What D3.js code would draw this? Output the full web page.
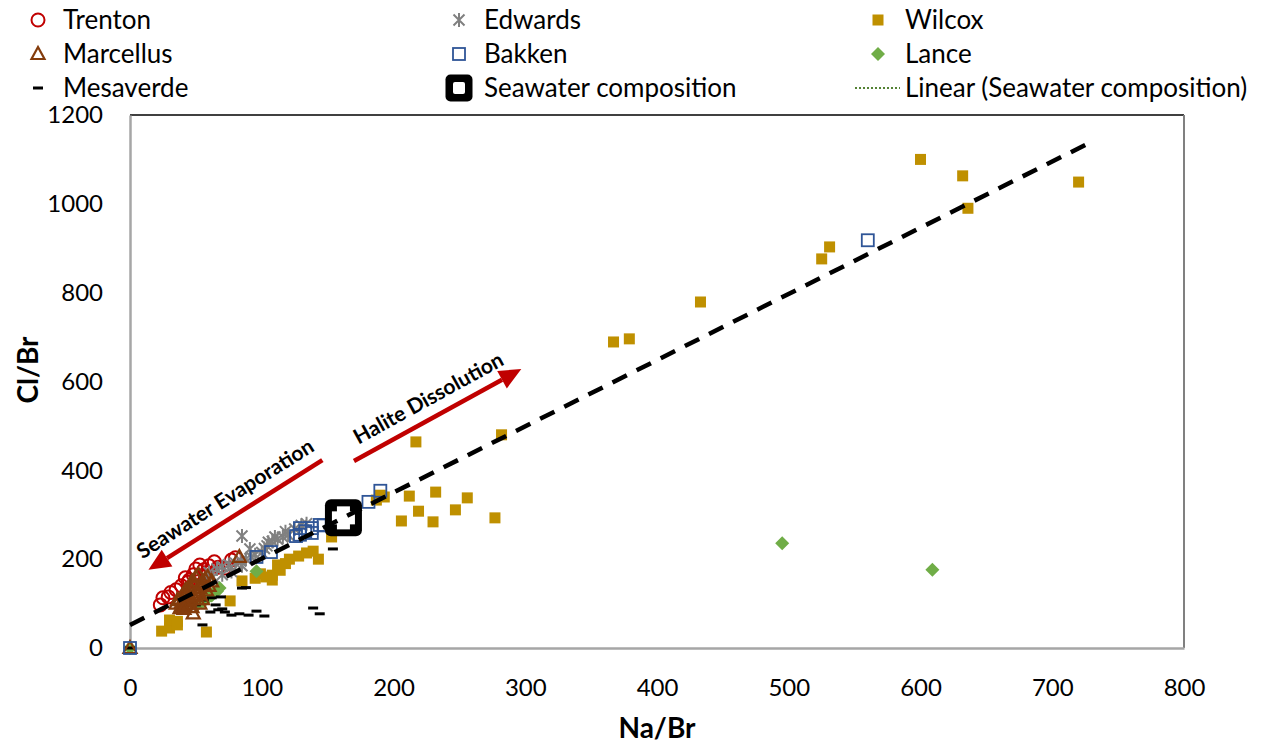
<!DOCTYPE html>
<html>
<head>
<meta charset="utf-8">
<script src="https://cdn.jsdelivr.net/npm/d3@7"></script>
<style>
  body { margin: 0; background: #fff; }
  svg text { font-family: Lato, "Open Sans", sans-serif; fill: #000; }
</style>
</head>
<body>
<div id="chart"></div>
<script>
// Na/Br vs Cl/Br, one array per formation
const trenton = [[23,97],[25,113],[29,115],[35,131],[42,158],[45,153],[53,187],[56,176],[64,194],[67,182],[72,180],[77,198],[80,203],[39,140],[48,165],[60,185],[31,125],[50,178],[44,148],[58,170]];
const marcellus = [[0,0],[83,205],[48,78],[35,100],[38,110],[40,120],[42,130],[45,140],[47,150],[50,160],[52,165],[55,150],[40,95],[43,105],[46,115],[50,125],[53,135],[56,145],[38,90],[44,100],[49,110],[52,120],[58,130],[60,140],[36,108],[41,112],[47,92],[55,110],[39,102],[42,98],[45,108],[48,118],[51,130],[54,142],[57,155],[59,160],[62,150],[44,125],[46,135],[49,145],[41,88],[53,100]];
const mesaverde = [[0,0],[154,223],[85,135],[88,136],[69,115],[50,97],[56,108],[62,113],[61,81],[67,86],[72,81],[77,74],[83,77],[90,74],[96,83],[102,72],[55,52],[139,90],[144,77],[65,97],[70,88]];
const edwards = [[85,252],[91,223],[60,170],[66,178],[70,183],[75,188],[80,191],[84,196],[77,172],[70,165],[63,160],[100,215],[104,230],[108,240],[112,245],[116,250],[120,255],[105,238],[110,250],[118,262],[125,268],[130,276],[134,280],[102,224],[95,210],[88,200],[92,205],[85,185],[58,158]];
const bakken = [[0,0],[560,918],[190,354],[181,329],[96,205],[107,216],[129,270],[129,255],[138,270],[144,277],[138,259],[133,263],[147,276],[126,252]];
const seawater = [[162,293]];
const wilcox = [[600,1100],[632,1063],[720,1049],[636,990],[531,903],[525,876],[433,779],[379,696],[367,689],[282,480],[217,464],[193,340],[212,342],[232,351],[256,338],[247,311],[219,308],[187,333],[190,344],[206,286],[230,284],[277,293],[153,250],[139,218],[143,200],[128,207],[121,200],[112,187],[108,164],[108,153],[99,167],[85,151],[134,214],[76,106],[58,36],[24,38],[30,45],[36,60],[30,63],[36,52],[114,175],[118,190],[103,160],[95,157]];
const lance = [[0,0],[495,236],[609,176],[96,173],[51,97],[54,103],[57,110],[60,116],[63,122],[66,128],[68,135],[56,105],[62,118]];
const trendLine = [[0,52],[730,1140]];
const xTicks = [0,100,200,300,400,500,600,700,800];
const yTicks = [0,200,400,600,800,1000,1200];
const evapArrow = [[146,423],[14,176]];
const haliteArrow = [[170,421],[297,628]];

const W = 1261, H = 744;
const svg = d3.select('#chart').append('svg').attr('width', W).attr('height', H);

const x = d3.scaleLinear().domain([0, 800]).range([130, 1184]);
const y = d3.scaleLinear().domain([0, 1200]).range([648, 115]);

// frame
svg.append('line').attr('x1', 130).attr('x2', 1184).attr('y1', y(1200)).attr('y2', y(1200))
  .attr('stroke', '#000').attr('stroke-width', 1.5);
svg.append('line').attr('x1', x(800)).attr('x2', x(800)).attr('y1', 115).attr('y2', 648)
  .attr('stroke', '#808080').attr('stroke-width', 2);

const xAxis = svg.append('g').attr('transform', `translate(0,${y(0)})`)
  .call(d3.axisBottom(x).tickValues(xTicks).tickFormat(d3.format('d')).tickSize(0));
const yAxis = svg.append('g').attr('transform', `translate(${x(0)},0)`)
  .call(d3.axisLeft(y).tickValues(yTicks).tickFormat(d3.format('d')).tickSize(0).tickPadding(27));
[xAxis, yAxis].forEach(g => {
  g.select('.domain').attr('stroke', '#a6a6a6').attr('stroke-width', 2.5);
  g.selectAll('text').attr('font-size', 24).attr('font-family', 'Lato');
});
xAxis.selectAll('text').attr('dy', '0.35em').attr('y', 40);

svg.append('text').attr('x', 657).attr('y', 738).attr('text-anchor', 'middle')
  .attr('font-size', 28).attr('font-weight', 700).text('Na/Br');
svg.append('text').attr('transform', 'translate(38,370) rotate(-90)').attr('text-anchor', 'middle')
  .attr('font-size', 28).attr('font-weight', 700).text('Cl/Br');

// marker painters
const sym = {
  wilcox: g => g.append('rect').attr('x', -5.5).attr('y', -5.5).attr('width', 11).attr('height', 11).attr('fill', '#bf9000'),
  trenton: g => g.append('circle').attr('r', 6.5).attr('fill', 'none').attr('stroke', '#c00000').attr('stroke-width', 2),
  marcellus: g => g.append('path').attr('d', 'M0,-7L6.5,5L-6.5,5Z').attr('fill', 'none').attr('stroke', '#843c0c').attr('stroke-width', 2.2),
  lance: g => g.append('path').attr('d', 'M0,-7L7,0L0,7L-7,0Z').attr('fill', '#70ad47'),
  mesaverde: g => g.append('rect').attr('x', -5).attr('y', -1.5).attr('width', 10).attr('height', 3).attr('fill', '#000'),
  edwards: g => g.append('path').attr('d', 'M-5.5,-5.5L5.5,5.5M-5.5,5.5L5.5,-5.5M0,-7L0,7').attr('stroke', '#808080').attr('stroke-width', 2),
  bakken: g => g.append('rect').attr('x', -6).attr('y', -6).attr('width', 12).attr('height', 12).attr('fill', 'none').attr('stroke', '#2f5597').attr('stroke-width', 1.8)
};

function drawSeries(data, draw) {
  const g = svg.append('g').selectAll('g').data(data).join('g')
    .attr('transform', d => `translate(${x(d[0])},${y(d[1])})`);
  g.each(function () { draw(d3.select(this)); });
}
drawSeries(wilcox, sym.wilcox);
drawSeries(trenton, sym.trenton);
drawSeries(lance, sym.lance);
drawSeries(mesaverde, sym.mesaverde);
drawSeries(edwards, sym.edwards);
drawSeries(marcellus, sym.marcellus);
drawSeries(bakken, sym.bakken);

// seawater composition marker
const sw = svg.append('g').selectAll('g').data(seawater).join('g')
  .attr('transform', d => `translate(${x(d[0])},${y(d[1])})`);
sw.append('rect').attr('x', -18.5).attr('y', -18.5).attr('width', 37).attr('height', 37).attr('rx', 6).attr('fill', '#000');
sw.append('rect').attr('x', -11.5).attr('y', -6.5).attr('width', 23).attr('height', 13).attr('fill', '#fff');
sw.append('rect').attr('x', -6.5).attr('y', -11.5).attr('width', 13).attr('height', 23).attr('fill', '#fff');

// trend line
svg.append('path').datum(trendLine)
  .attr('d', d3.line().x(d => x(d[0])).y(d => y(d[1])))
  .attr('stroke', '#000').attr('stroke-width', 4.5).attr('stroke-dasharray', '16,11').attr('fill', 'none');

// annotation arrows
function arrow(pts, label) {
  const [x0, y0] = [x(pts[0][0]), y(pts[0][1])];
  const [x1, y1] = [x(pts[1][0]), y(pts[1][1])];
  const ang = Math.atan2(y1 - y0, x1 - x0);
  const hl = 22, hw = 10;
  const bx = x1 - hl * Math.cos(ang), by = y1 - hl * Math.sin(ang);
  svg.append('line').attr('x1', x0).attr('y1', y0).attr('x2', bx).attr('y2', by)
    .attr('stroke', '#c00000').attr('stroke-width', 4.5);
  const px = -Math.sin(ang), py = Math.cos(ang);
  svg.append('path')
    .attr('d', `M${x1},${y1}L${bx + px * hw},${by + py * hw}L${bx - px * hw},${by - py * hw}Z`)
    .attr('fill', '#c00000');
  let deg = ang * 180 / Math.PI;
  if (deg > 90 || deg < -90) deg += 180;
  const mx = (x0 + x1) / 2, my = (y0 + y1) / 2;
  const off = 12;
  const tx = mx + off * Math.sin(deg * Math.PI / 180), ty = my - off * Math.cos(deg * Math.PI / 180);
  svg.append('text').attr('transform', `translate(${tx},${ty}) rotate(${deg})`)
    .attr('text-anchor', 'middle').attr('font-size', 21).attr('font-weight', 700).text(label);
}
arrow(evapArrow, 'Seawater Evaporation');
arrow(haliteArrow, 'Halite Dissolution');

// legend
const legendItems = [
  { name: 'Trenton', key: 'trenton', col: 0, row: 0 },
  { name: 'Marcellus', key: 'marcellus', col: 0, row: 1 },
  { name: 'Mesaverde', key: 'mesaverde', col: 0, row: 2 },
  { name: 'Edwards', key: 'edwards', col: 1, row: 0 },
  { name: 'Bakken', key: 'bakken', col: 1, row: 1 },
  { name: 'Seawater composition', key: 'seawater', col: 1, row: 2 },
  { name: 'Wilcox', key: 'wilcox', col: 2, row: 0 },
  { name: 'Lance', key: 'lance', col: 2, row: 1 },
  { name: 'Linear (Seawater composition)', key: 'linear', col: 2, row: 2 }
];
const colX = [38, 459, 878], textX = [63, 484, 905], rowY = [20, 54, 88];
legendItems.forEach(it => {
  const g = svg.append('g').attr('transform', `translate(${colX[it.col]},${rowY[it.row]})`);
  if (it.key === 'seawater') {
    g.append('rect').attr('x', -13.5).attr('y', -13.5).attr('width', 27).attr('height', 27).attr('rx', 5).attr('fill', '#000');
    g.append('rect').attr('x', -6).attr('y', -6).attr('width', 12).attr('height', 12).attr('rx', 2).attr('fill', '#fff');
  } else if (it.key === 'linear') {
    g.append('line').attr('x1', -23).attr('x2', 22).attr('stroke', '#548235').attr('stroke-width', 2).attr('stroke-dasharray', '2,2');
  } else {
    sym[it.key](g);
  }
  svg.append('text').attr('x', textX[it.col]).attr('y', rowY[it.row]).attr('dy', '0.35em')
    .attr('font-size', 26).text(it.name);
});
</script>
</body>
</html>
